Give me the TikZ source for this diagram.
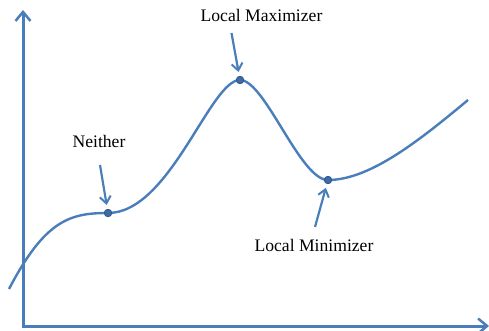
\documentclass[tikz,border=0pt]{standalone}
\usepackage{fontspec}
\setmainfont{Liberation Serif}
\usetikzlibrary{arrows.meta}
\definecolor{curveblue}{HTML}{4A7EBB}
\definecolor{dotblue}{HTML}{3E6BA6}
\definecolor{dotedge}{HTML}{2F5587}
\begin{document}
\begin{tikzpicture}[x=1pt, y=-1pt,
    axis/.style={curveblue, line width=3pt, -{Straight Barb[length=9pt, width=15pt, line width=2.5pt]}},
    curve/.style={curveblue, line width=2.4pt},
    callout/.style={curveblue, line width=2.2pt, -{Straight Barb[length=7pt, width=11pt, line width=2pt]}, shorten >=4pt},
    crit/.style={circle, fill=dotblue, draw=dotedge, line width=0.8pt, inner sep=0pt, minimum size=7.5pt},
    lbl/.style={font=\fontsize{17.6}{20}\selectfont, inner sep=0pt}]
    \useasboundingbox (0,0) rectangle (489,331);

    % Axes
    \coordinate (origin) at (23,326);
    \coordinate (ytop) at (23,10);
    \coordinate (xend) at (489,326);
    \draw[axis] ([yshift=1.5pt]origin) -- (ytop);
    \draw[axis] ([xshift=-1.5pt]origin) -- (xend);

    % Function
    \coordinate (start) at (9,289);
    \coordinate (end) at (468,100);
    \draw[curve] (start) .. controls (45,220) and (70,213) .. (108,213)
        .. controls (170,213) and (210,80) .. (240,80)
        .. controls (265,80) and (300,180) .. (328,180)
        .. controls (370,180) and (420,140) .. (end);

    % Critical points
    \node[crit] (neither) at (108,213) {};
    \node[crit] (max) at (240,80) {};
    \node[crit] (min) at (328,180) {};

    % Labels
    \node[lbl] (neitherlbl) at (99,141.5) {Neither};
    \node[lbl] (maxlbl) at (261.5,15.5) {Local Maximizer};
    \node[lbl] (minlbl) at (314,245.5) {Local Minimizer};

    % Callout arrows
    \coordinate (neitherfrom) at (100,165);
    \coordinate (maxfrom) at (231.5,33);
    \coordinate (minfrom) at (315,227);
    \draw[callout] (neitherfrom) -- (neither);
    \draw[callout] (maxfrom) -- (max);
    \draw[callout] (minfrom) -- (min);
\end{tikzpicture}
\end{document}
